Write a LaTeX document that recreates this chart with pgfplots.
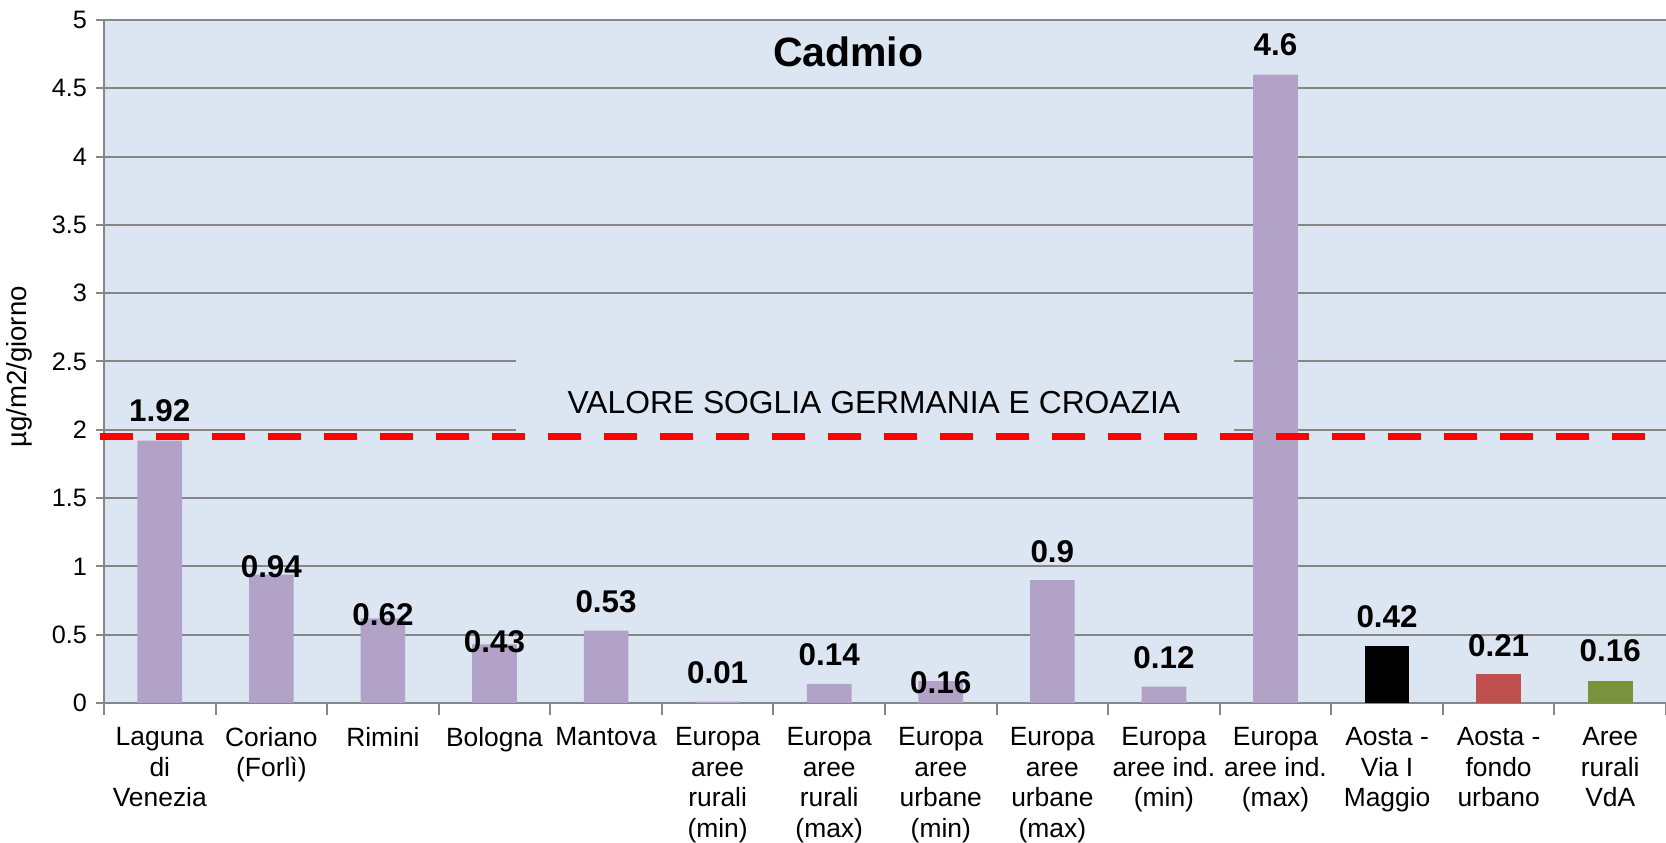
\documentclass[border=0pt]{standalone}
\usepackage{pgfplots}
\pgfplotsset{compat=1.18}
\usepackage{fontspec}
\setmainfont{Liberation Sans}

\definecolor{bgcol}{RGB}{220,230,242}
\definecolor{gridcol}{RGB}{134,134,134}
\definecolor{lila}{RGB}{179,162,199}
\definecolor{rosso}{RGB}{192,80,77}
\definecolor{verde}{RGB}{119,147,60}

\begin{document}
\begin{tikzpicture}
\begin{axis}[
    scale only axis,
    width=781pt, height=341.5pt,
    xmin=-0.5, xmax=13.5,
    ymin=0, ymax=5,
    clip=false,
    axis x line*=bottom, axis y line*=left,
    axis line style={gridcol, line width=1pt},
    axis background/.style={fill=bgcol},
    ymajorgrids,
    grid style={gridcol, line width=1pt},
    tick align=outside,
    ytick={0,0.5,1,1.5,2,2.5,3,3.5,4,4.5,5},
    major tick length=4pt,
    minor tick length=6pt,
    tick style={gridcol, line width=1pt},
    yticklabel style={font=\fontsize{12.6}{14}\selectfont, xshift=-1pt},
    /pgf/number format/assume math mode=true,
    xtick={0,...,13},
    major x tick style={draw=none},
    minor xtick={-0.5,0.5,...,13.5},
    xticklabels={Laguna\\di\\Venezia, Coriano\\(Forlì), Rimini, Bologna, Mantova,
        Europa\\aree\\rurali\\(min), Europa\\aree\\rurali\\(max),
        Europa\\aree\\urbane\\(min), Europa\\aree\\urbane\\(max),
        Europa\\aree ind.\\(min), Europa\\aree ind.\\(max),
        Aosta -\\Via I\\Maggio, Aosta -\\fondo\\urbano, Aree\\rurali\\VdA},
    xticklabel style={align=center, anchor=north, yshift=-4.5pt,
        font=\fontsize{13.2}{15.4}\selectfont},
    ylabel={µg/m2/giorno},
    ylabel style={at={(axis description cs:0,0.492)}, anchor=center, yshift=42.5pt,
        font=\fontsize{13.8}{14}\selectfont},
]
% riquadro della scritta (copre la griglia)
\fill[bgcol] (axis cs:3.19,1.97) rectangle (axis cs:9.63,2.56);

\addplot[ybar, bar width=0.4, bar shift=0pt, fill=lila, draw=none] coordinates {
    (0,1.92) (1,0.94) (2,0.62) (3,0.43) (4,0.53) (5,0.01) (6,0.14)
    (7,0.16) (8,0.9) (9,0.12) (10,4.6)
};
\addplot[ybar, bar width=0.4, bar shift=0pt, fill=black, draw=none] coordinates {(11,0.42)};
\addplot[ybar, bar width=0.4, bar shift=0pt, fill=rosso, draw=none] coordinates {(12,0.21)};
\addplot[ybar, bar width=0.4, bar shift=0pt, fill=verde, draw=none] coordinates {(13,0.16)};

% valore soglia
\addplot[red, line width=3.5pt, dash pattern=on 16.5pt off 11.5pt] coordinates {(-0.54,1.95) (13.31,1.95)};
\node[font=\fontsize{15.9}{17}\selectfont] at (axis cs:6.40,2.20) {VALORE SOGLIA GERMANIA E CROAZIA};

\node[font=\fontsize{20.5}{22}\selectfont\bfseries] at (axis cs:6.17,4.77) {Cadmio};

\begin{scope}[every node/.style={font=\fontsize{15.7}{17}\selectfont\bfseries}]
\node at (axis cs:0,2.14) {1.92};
\node at (axis cs:1,1.00) {0.94};
\node at (axis cs:2,0.645) {0.62};
\node at (axis cs:3,0.45) {0.43};
\node at (axis cs:4,0.74) {0.53};
\node at (axis cs:5,0.22) {0.01};
\node at (axis cs:6,0.35) {0.14};
\node at (axis cs:7,0.15) {0.16};
\node at (axis cs:8,1.11) {0.9};
\node at (axis cs:9,0.33) {0.12};
\node at (axis cs:10,4.82) {4.6};
\node at (axis cs:11,0.63) {0.42};
\node at (axis cs:12,0.42) {0.21};
\node at (axis cs:13,0.38) {0.16};
\end{scope}
\end{axis}
\pgfresetboundingbox
\path[use as bounding box] ([shift={(-52pt,-70pt)}]current axis.south west) rectangle ([shift={(0pt,10pt)}]current axis.north east);
\end{tikzpicture}
\end{document}
